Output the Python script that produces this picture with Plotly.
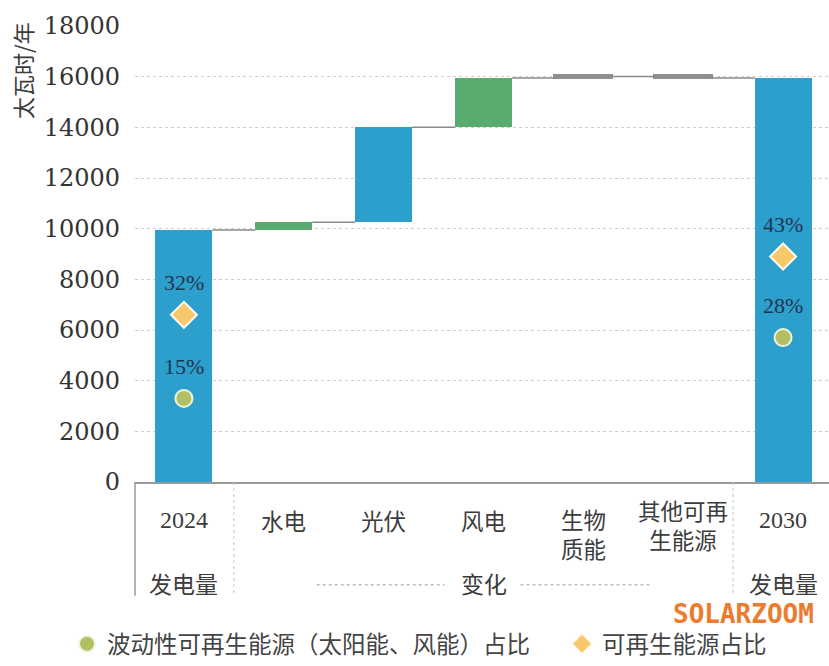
import plotly.graph_objects as go

# ---------------- data ----------------
categories = ["2024", "水电", "光伏", "风电", "生物<br>质能", "其他可再<br>生能源", "2030"]
measures = ["absolute", "relative", "relative", "relative", "relative", "relative", "total"]
values = [9950, 300, 3750, 1950, 60, -60, None]
bar_kind = ["total", "green", "blue", "green", "gray", "gray", "total"]

group_labels = ["发电量", "变化", "发电量"]
group_pos = [0, 3, 6]

share_renew_x = [0, 6]
share_renew_y = [6600, 8900]
share_renew_text = ["32%", "43%"]
share_var_x = [0, 6]
share_var_y = [3300, 5700]
share_var_text = ["15%", "28%"]

y_ticks = list(range(0, 18001, 2000))
y_tick_text = [str(v) for v in y_ticks]

# ---------------- styles ----------------
BLUE = "#2d9fcc"
GREEN = "#5aab6f"
GRAY = "#8f8f8f"
kind_color = {"total": BLUE, "blue": BLUE, "green": GREEN, "gray": GRAY}
SERIF = "Liberation Serif, Noto Sans CJK SC"
CJK = "Noto Sans CJK SC"
TXT = "#3c3c3c"

# ---------------- compute waterfall ----------------
x = list(range(len(categories)))
bases, heights, ends = [], [], []
run = 0
for m, v in zip(measures, values):
    if m == "absolute":
        bases.append(0); heights.append(v); run = v
    elif m == "relative":
        lo = min(run, run + v)
        bases.append(lo); heights.append(abs(v)); run = run + v
    else:
        bases.append(0); heights.append(run)
    ends.append(run)

colors = [kind_color[k] for k in bar_kind]
line_w = [3 if k == "gray" else 0 for k in bar_kind]
BW = 0.57

fig = go.Figure()
fig.add_trace(go.Bar(
    x=x, y=heights, base=bases, width=BW,
    marker=dict(color=colors, line=dict(color=colors, width=line_w)),
    showlegend=False, hoverinfo="skip"))

# connectors
cx, cy = [], []
for i in range(len(x) - 1):
    cx += [x[i] + BW / 2, x[i + 1] - BW / 2, None]
    cy += [ends[i], ends[i], None]
fig.add_trace(go.Scatter(x=cx, y=cy, mode="lines",
                         line=dict(color="#8a8a8a", width=1.5),
                         showlegend=False, hoverinfo="skip"))

fig.add_trace(go.Scatter(
    x=share_var_x, y=share_var_y, mode="markers",
    name="波动性可再生能源（太阳能、风能）占比", legend="legend",
    marker=dict(symbol="circle", size=17, color="#b3bf63",
                line=dict(color="#eef6e0", width=2))))
fig.add_trace(go.Scatter(
    x=share_renew_x, y=share_renew_y, mode="markers",
    name="可再生能源占比", legend="legend2",
    marker=dict(symbol="diamond", size=20, color="#f6c86a",
                line=dict(color="#fffaf0", width=2))))

PLOT_TOP, PLOT_BOT, PLOT_L, PLOT_W = 26, 483, 135, 694
PH = PLOT_BOT - PLOT_TOP
def py(p):
    return (PLOT_BOT - p) / PH
def px(p):
    return (p - PLOT_L) / PLOT_W

ann = []
for xx, yy, t in zip(share_var_x + share_renew_x, share_var_y + share_renew_y,
                     share_var_text + share_renew_text):
    ann.append(dict(x=xx, y=yy, xref="x", yref="y", text=t, showarrow=False,
                    xanchor="center", yshift=32,
                    font=dict(family=SERIF, size=22, color="#1e3550")))

# category labels
for i, c in enumerate(categories):
    is_num = c.isdigit()
    if "<br>" in c:
        yy = py(535) if i == 4 else py(526)
    else:
        yy = py(521)
    ann.append(dict(x=i, y=yy, xref="x", yref="paper", text=c, showarrow=False,
                    xanchor="center", yanchor="middle",
                    font=dict(family=SERIF if is_num else CJK,
                              size=24 if is_num else 22.5, color=TXT)))
for g, gx in zip(group_labels, group_pos):
    ann.append(dict(x=gx, y=py(584), xref="x", yref="paper", text=g, showarrow=False,
                    xanchor="center", yanchor="middle",
                    font=dict(family=CJK, size=23, color=TXT)))

# y title
ann.append(dict(x=px(22), y=py(71), xref="paper", yref="paper", text="太瓦时/年",
                textangle=-90, showarrow=False, xanchor="center", yanchor="middle",
                font=dict(family=CJK, size=22, color=TXT)))
# watermark
ann.append(dict(x=px(816), y=py(615), xref="paper", yref="paper",
                text="<b>SOLARZOOM</b>", showarrow=False, xanchor="right", yanchor="middle",
                font=dict(family="DejaVu Sans Mono", size=26, color="#ec7b2d")))

shapes = [
    dict(type="line", xref="x", yref="paper", x0=0.5, x1=0.5, y0=0, y1=py(597),
         line=dict(color="#c8c8c8", width=1, dash="dot")),
    dict(type="line", xref="x", yref="paper", x0=5.5, x1=5.5, y0=0, y1=py(597),
         line=dict(color="#c8c8c8", width=1, dash="dot")),
    dict(type="line", xref="paper", yref="paper", x0=0, x1=0, y0=0, y1=py(597),
         line=dict(color="#999999", width=1.5)),
    dict(type="line", xref="x", yref="paper", x0=1.33, x1=2.61, y0=py(586), y1=py(586),
         line=dict(color="#c0c0c0", width=1.5, dash="dot")),
    dict(type="line", xref="x", yref="paper", x0=3.37, x1=4.67, y0=py(586), y1=py(586),
         line=dict(color="#c0c0c0", width=1.5, dash="dot")),
]

legend_common = dict(orientation="h", xanchor="left", yanchor="middle", y=py(646),
                     font=dict(family=CJK, size=23.5, color="#444444"),
                     bgcolor="rgba(0,0,0,0)", itemsizing="trace")

fig.update_layout(
    width=829, height=666,
    margin=dict(l=PLOT_L, r=0, t=PLOT_TOP, b=666 - PLOT_BOT),
    paper_bgcolor="white", plot_bgcolor="white",
    annotations=ann, shapes=shapes,
    bargap=0,
    xaxis=dict(range=[-0.49, 6.46], showticklabels=False, showgrid=False,
               zeroline=False, showline=True, linecolor="#999999", linewidth=1.5,
               fixedrange=True),
    yaxis=dict(range=[0, 18000], tickvals=y_ticks, ticktext=y_tick_text, showgrid=True,
               gridcolor="#cfcfcf", griddash="dot", gridwidth=1,
               zeroline=False, showline=False, ticks="",
               ticklabelstandoff=14,
               tickfont=dict(family="DejaVu Serif", size=24, color="#333333")),
    legend=dict(x=px(67), **legend_common),
    legend2=dict(x=px(562), **legend_common),
    showlegend=True,
)

fig.write_html("out.html")
